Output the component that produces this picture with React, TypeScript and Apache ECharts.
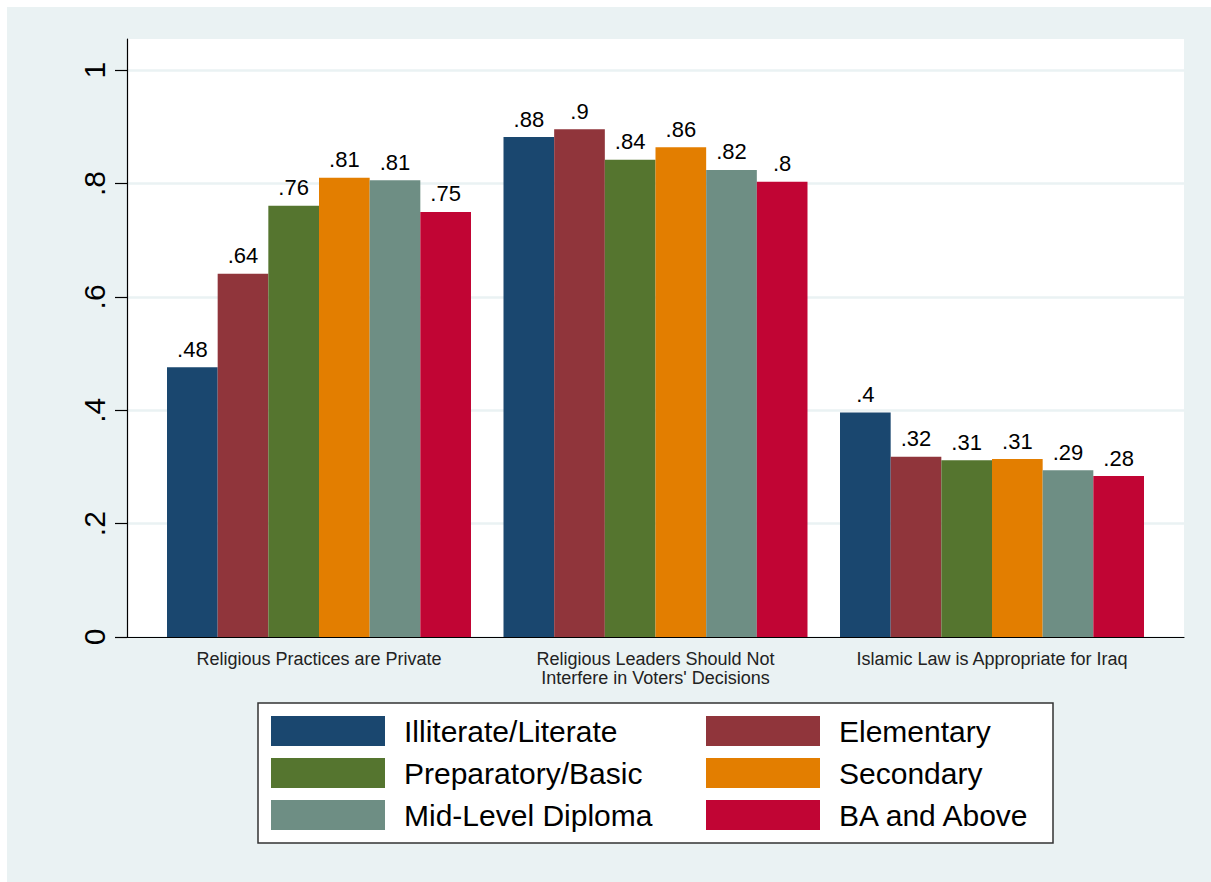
import React, { useEffect, useRef } from "react";
import * as echarts from "echarts";

const categories = [
  "Religious Practices are Private",
  "Religious Leaders Should Not\nInterfere in Voters' Decisions",
  "Islamic Law is Appropriate for Iraq",
];
const seriesNames = [
  "Illiterate/Literate",
  "Elementary",
  "Preparatory/Basic",
  "Secondary",
  "Mid-Level Diploma",
  "BA and Above",
];
const illiterate = [0.476, 0.882, 0.396];
const elementary = [0.641, 0.896, 0.318];
const preparatory = [0.761, 0.842, 0.312];
const secondary = [0.81, 0.864, 0.314];
const midLevel = [0.806, 0.824, 0.294];
const baAbove = [0.75, 0.803, 0.284];
const yTicks = [0, 0.2, 0.4, 0.6, 0.8, 1];
const colors = ["#1A476F", "#90353B", "#55752F", "#E37E00", "#6E8E84", "#C10534"];

const FONT = 'Arial, "Liberation Sans", Helvetica, sans-serif';

function fmt(v: number): string {
  const r = Math.round(v * 100) / 100;
  let s = String(r);
  if (s.startsWith("0.")) s = s.slice(1);
  return s;
}

export default function App() {
  const ref = useRef<HTMLDivElement>(null);
  useEffect(() => {
    if (!ref.current) return;
    const chart = echarts.init(ref.current, undefined, { renderer: "svg" });
    const values = [illiterate, elementary, preparatory, secondary, midLevel, baAbove];
    const series = values.map((vals, i) => ({
      name: seriesNames[i],
      type: "bar",
      xAxisIndex: 1,
      yAxisIndex: 1,
      data: vals,
      barGap: "0%",
      barCategoryGap: "9.66%",
      itemStyle: { color: colors[i] },
      label: {
        show: true,
        position: "top",
        distance: 7,
        fontSize: 22,
        fontFamily: FONT,
        color: "#000",
        formatter: (p: any) => fmt(p.value),
      },
    }));
    const legendCommon = {
      orient: "vertical",
      top: 709,
      padding: 0,
      itemWidth: 114,
      itemHeight: 30,
      itemGap: 12,
      icon: "rect",
      selectedMode: false,
      textStyle: { fontSize: 30, fontFamily: FONT, color: "#000", padding: [0, 0, 0, 14] },
    };
    chart.setOption({
      animation: false,
      backgroundColor: "#EAF2F3",
      textStyle: { fontFamily: FONT },
      grid: [
        { left: 120, right: 27, top: 32, bottom: 245, show: true, backgroundColor: "#fff", borderWidth: 0 },
        { left: 143.75, right: 50.75, top: 32, bottom: 245 },
      ],
      xAxis: [
        {
          type: "category",
          gridIndex: 0,
          data: [""],
          axisLine: { show: true, lineStyle: { color: "#000", width: 1.2 } },
          axisTick: { show: false },
          axisLabel: { show: false },
          splitLine: { show: false },
        },
        {
          type: "category",
          gridIndex: 1,
          data: categories,
          axisLine: { show: false },
          axisTick: { show: false },
          axisLabel: {
            margin: 12,
            fontSize: 18,
            lineHeight: 19,
            color: "#222",
            fontFamily: FONT,
            interval: 0,
          },
        },
      ],
      yAxis: [
        {
          type: "value",
          gridIndex: 0,
          min: 0,
          max: 1.055,
          axisLine: { show: true, lineStyle: { color: "#000", width: 1.2 } },
          axisTick: { show: true, length: 12, lineStyle: { color: "#000", width: 1.2 }, customValues: yTicks },
          axisLabel: {
            customValues: yTicks,
            rotate: 90,
            margin: 18,
            fontSize: 30,
            color: "#000",
            fontFamily: FONT,
            formatter: (v: number) => fmt(v),
          },
          splitLine: { show: true, lineStyle: { color: "#EAF2F3", width: 2.5 } },
        },
        {
          type: "value",
          gridIndex: 1,
          min: 0,
          max: 1.055,
          show: false,
          splitLine: { show: false },
        },
      ],
      legend: [
        { ...legendCommon, left: 264, data: [seriesNames[0], seriesNames[2], seriesNames[4]] },
        { ...legendCommon, left: 699, data: [seriesNames[1], seriesNames[3], seriesNames[5]] },
      ],
      graphic: [
        {
          type: "rect",
          z: 0,
          shape: { x: 251, y: 696, width: 795, height: 140 },
          style: { fill: "#fff", stroke: "#333", lineWidth: 1.5 },
        },
      ],
      series,
    });
    return () => chart.dispose();
  }, []);
  return (
    <div
      ref={ref}
      style={{ position: "absolute", left: 7, top: 7, width: 1204, height: 875 }}
    />
  );
}
